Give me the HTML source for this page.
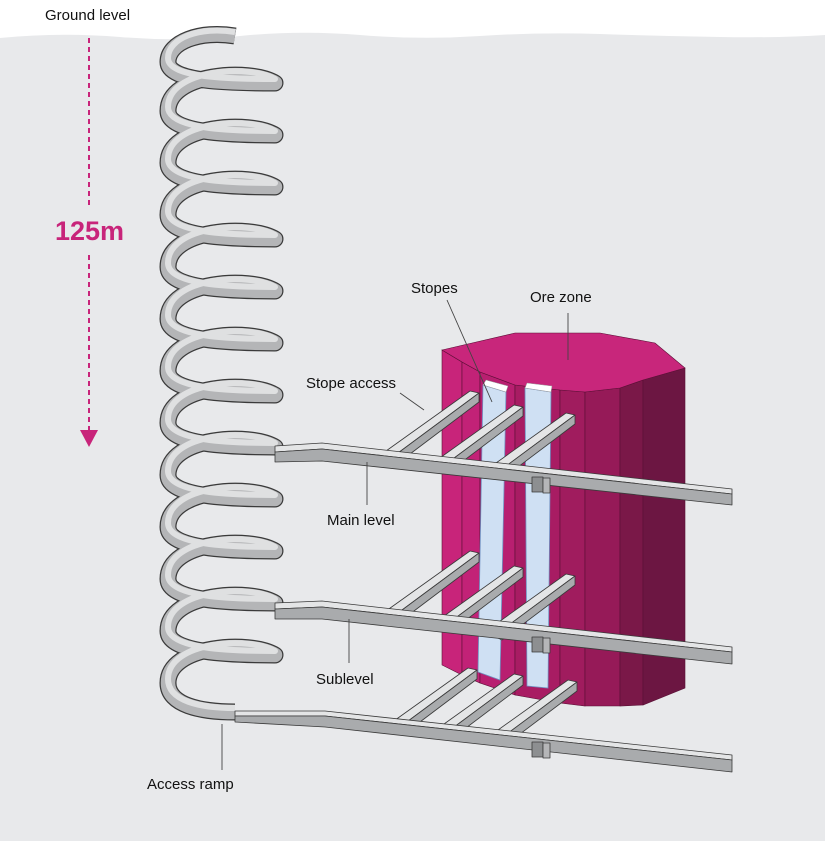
<!DOCTYPE html>
<html><head><meta charset="utf-8"><style>
html,body{margin:0;padding:0;background:#fff}
svg{display:block}
text{font-family:"Liberation Sans",Arial,sans-serif}
</style></head><body>
<svg width="825" height="841" viewBox="0 0 825 841" xmlns="http://www.w3.org/2000/svg">
<defs>
<g id="bar" stroke="#3a3a3a" stroke-width="0.8" stroke-linejoin="round">
<polygon points="0,0 9,2 -72,62 -84,60" fill="#e4e5e6"/>
<polygon points="9,2 9,11 -64,66 -72,62" fill="#a9abad"/>
</g>
<path id="sp" fill="none" stroke-linejoin="round" d="M235,36 C200,30 168,42 168,62 C168,82 230,83 275,83
C250,68 168,73 168,111 C168,133 230,135 275,135
C250,120 168,125 168,163 C168,185 230,187 275,187
C250,172 168,177 168,215 C168,237 230,239 275,239
C250,224 168,229 168,267 C168,289 230,291 275,291
C250,276 168,281 168,319 C168,341 230,343 275,343
C250,328 168,333 168,371 C168,393 230,395 275,395
C250,380 168,385 168,423 C168,445 230,447 275,447
C250,432 168,437 168,475 C168,497 230,499 275,499
C250,484 168,489 168,527 C168,549 230,551 275,551
C250,536 168,541 168,579 C168,601 230,603 275,603
C250,588 168,593 168,631 C168,653 230,655 275,655
C250,640 168,645 168,683 C168,705 200,712 235,712"/>
</defs>
<rect width="825" height="841" fill="#fff"/>
<path d="M0,38 Q60,32 120,37 T240,36 T360,35 T480,36 T600,34 T720,37 T825,35 L825,841 L0,841Z" fill="#e8e9eb"/>

<g stroke="#5a0f35" stroke-width="0.6">
<polygon points="442,350 462,362 462,675 442,665" fill="#c8247a"/>
<polygon points="462,362 480,372 480,683 462,675" fill="#c22277"/>
<polygon points="480,372 515,385 515,695 480,683" fill="#b81f70"/>
<polygon points="515,385 560,390 560,703 515,695" fill="#a81c63"/>
<polygon points="560,390 585,392 585,706 560,703" fill="#a01c5e"/>
<polygon points="585,392 620,388 620,706 585,706" fill="#961a58"/>
<polygon points="620,388 643,380 643,705 620,706" fill="#7a1848"/>
<polygon points="643,380 685,368 685,688 643,705" fill="#6c1642"/>
<polygon points="442,350 515,333 600,333 655,343 685,368 643,380 620,388 585,392 560,390 515,385 480,372 462,362" fill="#c8267b"/>
</g>
<g stroke="#6f8fc0" stroke-width="0.8">
<polygon points="483,385 506,392 500,680 478,672" fill="#cfe0f3"/>
<polygon points="525,388 551,392 548,688 527,686" fill="#cfe0f3"/>
</g>
<polygon points="483,385 486,380 508,386 506,392" fill="#fff" stroke="#999" stroke-width="0.5"/>
<polygon points="525,388 527,383 552,386 551,392" fill="#fff" stroke="#999" stroke-width="0.5"/>

<use href="#sp" stroke="#3a3a3a" stroke-width="17"/>
<use href="#sp" stroke="#b4b5b7" stroke-width="14.5"/>
<use href="#sp" stroke="#dfe0e1" stroke-width="6" transform="translate(0,-4)"/>

<use href="#bar" x="470" y="391"/>
<use href="#bar" x="514" y="405"/>
<use href="#bar" x="566" y="413"/>
<use href="#bar" x="470" y="551"/>
<use href="#bar" x="514" y="566"/>
<use href="#bar" x="566" y="574"/>
<use href="#bar" x="468" y="668"/>
<use href="#bar" x="514" y="674"/>
<use href="#bar" x="568" y="680"/>

<g stroke="#3a3a3a" stroke-width="0.8" stroke-linejoin="round">
<polygon points="275,446 322,443 732,489 732,494 322,449 275,452" fill="#e4e5e6"/>
<polygon points="275,452 322,449 732,494 732,505 322,461 275,462" fill="#a9abad"/>
<polygon points="275,603 322,601 732,647 732,652 322,607 275,609" fill="#e4e5e6"/>
<polygon points="275,609 322,607 732,652 732,664 322,619 275,619" fill="#a9abad"/>
<polygon points="235,711 325,711 732,755 732,760 325,716 235,716" fill="#e4e5e6"/>
<polygon points="235,716 325,716 732,760 732,772 325,727 235,722" fill="#a9abad"/>
<rect x="532" y="477" width="11" height="15" fill="#8d8f91"/>
<rect x="543" y="478" width="7" height="15" fill="#b5b6b8"/>
<rect x="532" y="637" width="11" height="15" fill="#8d8f91"/>
<rect x="543" y="638" width="7" height="15" fill="#b5b6b8"/>
<rect x="532" y="742" width="11" height="15" fill="#8d8f91"/>
<rect x="543" y="743" width="7" height="15" fill="#b5b6b8"/>
</g>

<line x1="89" y1="38" x2="89" y2="205" stroke="#c8247a" stroke-width="2" stroke-dasharray="5,4"/>
<line x1="89" y1="255" x2="89" y2="432" stroke="#c8247a" stroke-width="2" stroke-dasharray="5,4"/>
<polygon points="80,430 98,430 89,447" fill="#c8247a"/>
<text x="55" y="240" font-size="27" font-weight="bold" fill="#c8247a">125m</text>

<g font-size="15" fill="#111">
<text x="45" y="20">Ground level</text>
<text x="411" y="293">Stopes</text>
<text x="530" y="302">Ore zone</text>
<text x="306" y="388">Stope access</text>
<text x="327" y="525">Main level</text>
<text x="316" y="684">Sublevel</text>
<text x="147" y="789">Access ramp</text>
</g>
<g stroke="#444" stroke-width="0.9">
<line x1="447" y1="300" x2="492" y2="402"/>
<line x1="568" y1="313" x2="568" y2="360"/>
<line x1="400" y1="393" x2="424" y2="410"/>
<line x1="367" y1="505" x2="367" y2="462"/>
<line x1="349" y1="663" x2="349" y2="619"/>
<line x1="222" y1="770" x2="222" y2="724"/>
</g>
</svg>
</body></html>
